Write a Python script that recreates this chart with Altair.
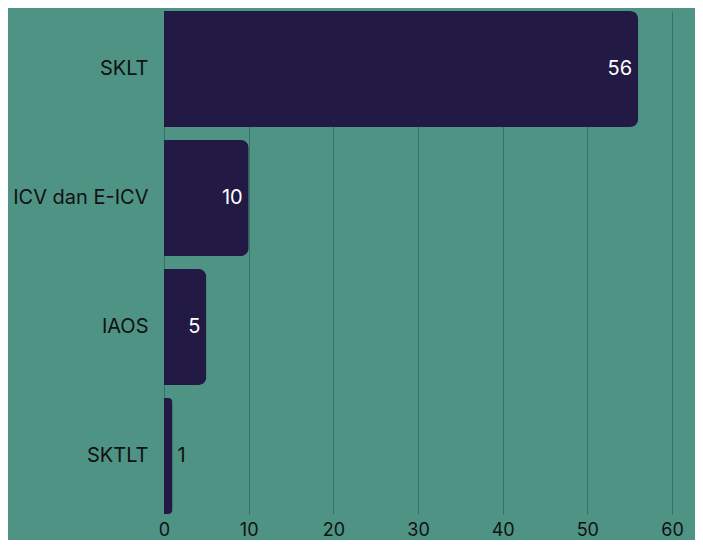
import altair as alt
import pandas as pd

categories = ["SKLT", "ICV dan E-ICV", "IAOS", "SKTLT"]
values = [56, 10, 5, 1]
x_ticks = [0, 10, 20, 30, 40, 50, 60]

df = pd.DataFrame({"cat": categories, "val": values})
df["inside"] = df["val"] >= 3

BG = "#4E9384"
BAR = "#221A45"
FONT = "Inter"

x = alt.X("val:Q", scale=alt.Scale(domain=[0, 60], nice=False),
          axis=alt.Axis(values=x_ticks, title=None, grid=True, domain=False, ticks=False,
                        labelFontSize=18, labelColor="#111111", labelPadding=7,
                        labelFlush=False, labelOverlap=False,
                        gridColor="#3A6F63", gridWidth=1, labelFont=FONT))
y = alt.Y("cat:N", sort=categories,
          scale=alt.Scale(paddingInner=0.1, paddingOuter=0),
          axis=alt.Axis(title=None, domain=False, ticks=False, labelFontSize=20,
                        labelColor="#111111", labelPadding=16, labelFont=FONT))

bars = alt.Chart(df).mark_bar(color=BAR, cornerRadiusEnd=8).encode(x=x, y=y)

inside = alt.Chart(df).transform_filter("datum.inside").mark_text(
    align="right", baseline="middle", dx=-6, color="white", fontSize=20, font=FONT
).encode(x="val:Q", y=alt.Y("cat:N", sort=categories), text="val:Q")

outside = alt.Chart(df).transform_filter("!datum.inside").mark_text(
    align="left", baseline="middle", dx=5, color="#111111", fontSize=20, font=FONT
).encode(x="val:Q", y=alt.Y("cat:N", sort=categories), text="val:Q")

chart = (bars + inside + outside).properties(
    width=508, height=503,
    background=BG,
    padding={"left": 156, "top": 3, "right": 23, "bottom": 26},
    autosize=alt.AutoSizeParams(type="none"),
).configure_view(strokeWidth=0)

chart.save("out.html", embed_options={"renderer": "svg", "actions": False})
